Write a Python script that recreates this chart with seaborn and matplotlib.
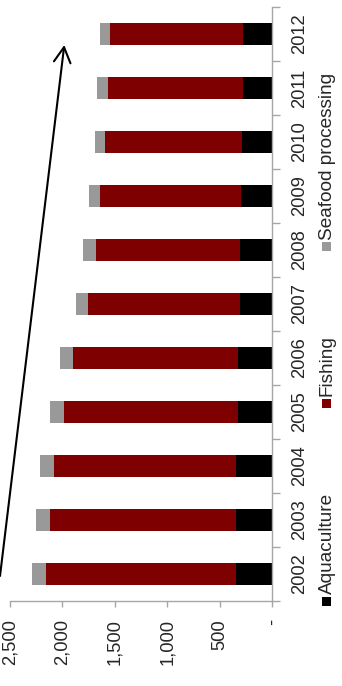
import numpy as np
import pandas as pd
import matplotlib
matplotlib.use('Agg')
import matplotlib.pyplot as plt
import seaborn as sns
from matplotlib.patches import Rectangle

# values
years = ['2002', '2003', '2004', '2005', '2006', '2007', '2008', '2009', '2010', '2011', '2012']
aquaculture = [346, 346, 346, 327, 327, 308, 308, 299, 289, 274, 280]
fishing = [1813, 1775, 1734, 1658, 1572, 1448, 1375, 1342, 1301, 1291, 1266]
seafood = [134, 131, 134, 130, 121, 111, 117, 105, 99, 102, 98]

xticks = [0, 500, 1000, 1500, 2000, 2500]
xlabels = ['-', '500', '1,000', '1,500', '2,000', '2,500']

c_aqua = '#000000'
c_fish = '#7f0000'
c_sea = '#999999'
axis_grey = '#a6a6a6'

sns.set_style('white')
plt.rcParams['font.family'] = ['Liberation Sans', 'DejaVu Sans']

df = pd.DataFrame({'year': years, 'Aquaculture': aquaculture,
                   'Fishing': fishing, 'Seafood processing': seafood})
df['fish_top'] = df['Aquaculture'] + df['Fishing']
df['total'] = df['fish_top'] + df['Seafood processing']

order = years[::-1]

fig = plt.figure(figsize=(3.42, 6.86), dpi=100)
ax = fig.add_axes([10 / 342, 1 - 601 / 686, 262 / 342, 594 / 686])

# stacked bars: draw cumulative totals on top of each other
for col, c in [('total', c_sea), ('fish_top', c_fish), ('Aquaculture', c_aqua)]:
    sns.barplot(data=df, x=col, y='year', order=order, orient='h', color=c,
                saturation=1, width=0.4, errorbar=None, linewidth=0, ax=ax)

ax.set_xlim(2500, 0)
ax.set_ylim(10.5, -0.5)
ax.set_xlabel('')
ax.set_ylabel('')

ax.set_xticks(xticks)
ax.set_xticklabels(xlabels, rotation=90, va='top')
ax.tick_params(axis='x', length=4, width=1, color=axis_grey, direction='out',
               pad=9, labelsize=13.2, bottom=True)

ax.yaxis.tick_right()
ax.set_yticks(range(len(order)))
ax.set_yticklabels(order, rotation=90, va='center')
ax.set_yticks(np.arange(-0.5, len(order)), minor=True)
ax.tick_params(axis='y', which='major', length=0, pad=13.5, labelsize=13.2)
ax.tick_params(axis='y', which='minor', length=6, width=1, color=axis_grey,
               direction='out', right=True)

for s in ['left', 'top']:
    ax.spines[s].set_visible(False)
for s in ['right', 'bottom']:
    ax.spines[s].set_color(axis_grey)
    ax.spines[s].set_linewidth(1)

# legend, rotated like the rest of the chart
legend_items = [('Aquaculture', c_aqua, 601), ('Fishing', c_fish, 403.3),
                ('Seafood processing', c_sea, 246.7)]
for label, c, ypx in legend_items:
    fig.add_artist(Rectangle((321.5 / 342, 1 - (ypx + 4.5) / 686), 9 / 342, 9 / 686,
                             transform=fig.transFigure, color=c, lw=0))
    fig.text(327 / 342, 1 - (ypx - 7) / 686, label, rotation=90,
             ha='center', va='bottom', fontsize=13.7)

# trend arrow
ax.annotate('', xy=(64.3 / 342, 1 - 45 / 686), xytext=(0, 1 - 576 / 686),
            xycoords='figure fraction', textcoords='figure fraction',
            arrowprops=dict(arrowstyle='->,head_length=1.1,head_width=0.6',
                            lw=1.5, color='black', shrinkA=0, shrinkB=0),
            annotation_clip=False)

fig.savefig('out.png', dpi=100)
